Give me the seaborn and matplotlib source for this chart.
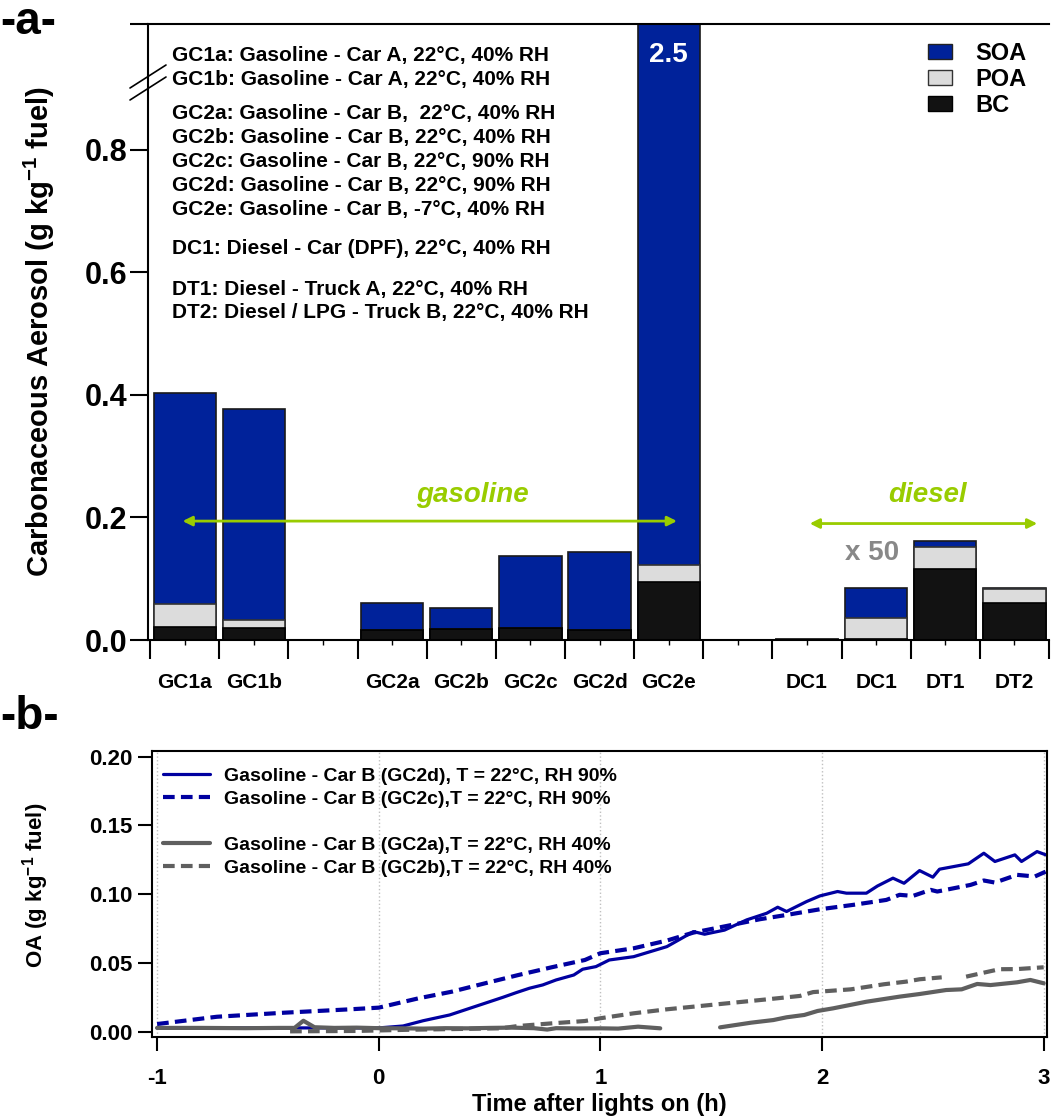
import numpy as np
import pandas as pd
import matplotlib
matplotlib.use("Agg")
import matplotlib.pyplot as plt
import seaborn as sns
from matplotlib.lines import Line2D
from matplotlib.patches import Patch

sns.set_style("ticks")
plt.rcParams['font.family'] = ['Liberation Sans', 'DejaVu Sans']
plt.rcParams['font.weight'] = 'bold'
plt.rcParams['axes.labelweight'] = 'bold'
plt.rcParams['text.color'] = 'black'
plt.rcParams['axes.labelcolor'] = 'black'
plt.rcParams['xtick.color'] = 'black'
plt.rcParams['ytick.color'] = 'black'
plt.rcParams['mathtext.fontset'] = 'custom'
plt.rcParams['mathtext.rm'] = 'Liberation Sans:bold'
plt.rcParams['mathtext.bf'] = 'Liberation Sans:bold'
plt.rcParams['mathtext.default'] = 'bf'

# ---- panel a: emission factors (g / kg fuel) ----
slot_labels = ['GC1a', 'GC1b', '', 'GC2a', 'GC2b', 'GC2c', 'GC2d', 'GC2e',
               '', 'DC1', 'DC1', 'DT1', 'DT2']
bar_slots = [0, 1, 3, 4, 5, 6, 7, 9, 10, 11, 12]
bc = [0.021, 0.020, 0.016, 0.018, 0.020, 0.016, 0.095, 0.0008, 0.002, 0.116, 0.060]
poa = [0.038, 0.012, 0.0, 0.0, 0.0, 0.0, 0.027, 0.0006, 0.034, 0.036, 0.024]
soa = [0.344, 0.345, 0.044, 0.034, 0.117, 0.127, 2.378, 0.0006, 0.049, 0.010, 0.001]

experiments = [
    'GC1a: Gasoline - Car A, 22°C, 40% RH',
    'GC1b: Gasoline - Car A, 22°C, 40% RH',
    'GC2a: Gasoline - Car B,  22°C, 40% RH',
    'GC2b: Gasoline - Car B, 22°C, 40% RH',
    'GC2c: Gasoline - Car B, 22°C, 90% RH',
    'GC2d: Gasoline - Car B, 22°C, 90% RH',
    'GC2e: Gasoline - Car B, -7°C, 40% RH',
    'DC1: Diesel - Car (DPF), 22°C, 40% RH',
    'DT1: Diesel - Truck A, 22°C, 40% RH',
    'DT2: Diesel / LPG - Truck B, 22°C, 40% RH',
]
experiment_rows = [56, 79, 114, 138, 162, 185, 209, 249, 289, 312]

# ---- panel b: OA time series (g / kg fuel) ----
t_gc2d = [-1.0, -0.5, 0.0, 0.11, 0.2, 0.32, 0.41, 0.5, 0.56, 0.62, 0.68, 0.74,
          0.8, 0.88, 0.92, 0.98, 1.04, 1.15, 1.3, 1.42, 1.47, 1.56, 1.66, 1.75,
          1.8, 1.84, 1.93, 1.99, 2.07, 2.11, 2.2, 2.25, 2.32, 2.37, 2.44, 2.5,
          2.53, 2.66, 2.73, 2.78, 2.87, 2.9, 2.97, 3.01]
oa_gc2d = [0.003, 0.003, 0.003, 0.0044, 0.0082, 0.0124, 0.0172, 0.022, 0.0252,
           0.0286, 0.0318, 0.0342, 0.0378, 0.0414, 0.0456, 0.0475, 0.0523,
           0.0547, 0.062, 0.0729, 0.071, 0.074, 0.0814, 0.0862, 0.0906, 0.0875,
           0.0947, 0.0988, 0.102, 0.1008, 0.1008, 0.106, 0.1117, 0.108, 0.1172,
           0.1124, 0.1182, 0.1221, 0.1298, 0.1238, 0.1286, 0.1238, 0.131, 0.1286]

t_gc2c = [-1.0, -0.73, -0.43, -0.13, 0.0, 0.18, 0.33, 0.48, 0.63, 0.78, 0.93,
          1.0, 1.15, 1.3, 1.42, 1.57, 1.72, 1.84, 1.99, 2.14, 2.29, 2.35, 2.41,
          2.49, 2.52, 2.67, 2.73, 2.78, 2.88, 2.96, 3.01]
oa_gc2c = [0.0058, 0.0111, 0.014, 0.0165, 0.0177, 0.0245, 0.0293, 0.0354,
           0.0414, 0.047, 0.0523, 0.0572, 0.0608, 0.0664, 0.0722, 0.077, 0.0819,
           0.085, 0.0891, 0.0923, 0.0959, 0.0996, 0.0988, 0.1032, 0.102, 0.1068,
           0.11, 0.1085, 0.1141, 0.1129, 0.1165]

t_gc2a = [-1.0, -0.8, -0.6, -0.45, -0.38, -0.34, -0.29, -0.2, -0.1, 0.0, 0.1,
          0.2, 0.3, 0.4, 0.5, 0.6, 0.7, 0.76, 0.8, 0.9, 1.0, 1.08, 1.17, 1.27,
          np.nan,
          1.54, 1.68, 1.78, 1.84, 1.92, 1.98, 2.05, 2.2, 2.35, 2.44, 2.56, 2.63,
          2.7, 2.76, 2.88, 2.94, 3.0]
oa_gc2a = [0.003, 0.003, 0.0028, 0.003, 0.003, 0.0082, 0.0035, 0.003, 0.0032,
           0.0028, 0.0027, 0.0025, 0.0028, 0.0027, 0.003, 0.0032, 0.0028,
           0.0018, 0.0028, 0.0026, 0.0027, 0.0025, 0.0039, 0.0027,
           np.nan,
           0.0034, 0.0068, 0.0087, 0.0107, 0.0124, 0.0153, 0.0172, 0.022,
           0.0257, 0.0276, 0.0305, 0.031, 0.0349, 0.0341, 0.0361, 0.0378, 0.0354]

t_gc2b = [-0.4, -0.1, 0.15, 0.55, 0.63, 0.78, 0.93, 1.0, 1.15, 1.3, 1.45, 1.6,
          1.75, 1.9, 1.96, 2.13, 2.28, 2.38, 2.44, 2.54,
          np.nan,
          2.65, 2.73, 2.8, 2.88, 3.0]
oa_gc2b = [0.0005, 0.0008, 0.0017, 0.0027, 0.0044, 0.0063, 0.008, 0.01, 0.0136,
           0.0165, 0.0189, 0.0213, 0.0237, 0.0262, 0.029, 0.031, 0.0347, 0.0366,
           0.0383, 0.0397,
           np.nan,
           0.0402, 0.0431, 0.0456, 0.0457, 0.047]

SOA_C, POA_C, BC_C = '#00229a', '#dcdcdc', '#121212'
GREEN = '#99cc00'
BLUE, GRAY = '#0000a0', '#5f5f5f'

W, H = 1054, 1118
fig = plt.figure(figsize=(W / 100, H / 100), dpi=100)


def px_box(left, top, right, bottom):
    return [left / W, 1 - bottom / H, (right - left) / W, (bottom - top) / H]


# =========================== panel a ===========================
ax = fig.add_axes(px_box(148, 24, 1049, 640))
bars = pd.DataFrame({'slot': bar_slots, 'bc': bc, 'poa': poa, 'soa': soa})
bars['poa_top'] = bars['bc'] + bars['poa']
bars['total'] = bars['poa_top'] + bars['soa']
for col, color, edge in [('total', SOA_C, '#1a1a1a'), ('poa_top', POA_C, '#333333'),
                         ('bc', BC_C, '#000000')]:
    sns.barplot(data=bars, x='slot', y=col, native_scale=True, width=0.9,
                color=color, saturation=1, edgecolor=edge, linewidth=1.2,
                errorbar=None, ax=ax)

ax.set_xlim(-0.53, 12.5)
ax.set_ylim(0, 1.005)
ax.set_yticks([0, 0.2, 0.4, 0.6, 0.8, 1.005])
ax.set_yticklabels(['0.0', '0.2', '0.4', '0.6', '0.8', ''], fontsize=22)
ax.set_xticks(np.arange(-0.5, 13, 1))
ax.set_xticklabels([])
ax.set_xticks(range(13), minor=True)
ax.set_xticklabels(slot_labels, minor=True, fontsize=15)
ax.tick_params(axis='x', which='major', length=14, width=1.5, direction='out')
ax.tick_params(axis='x', which='minor', length=3.5, width=1.0, pad=20)
ax.tick_params(axis='y', length=13, width=1.5, pad=2)
ax.set_xlabel('')
ax.set_ylabel('Carbonaceous Aerosol (g kg$^{-1}$ fuel)', fontsize=21, labelpad=20)
for side in ['left', 'top', 'bottom']:
    ax.spines[side].set_linewidth(1.5)
    ax.spines[side].set_color('black')
ax.spines['right'].set_visible(False)

ax.text(7, 0.955, '2.5', color='white', ha='center', va='center',
        fontsize=20, fontweight='bold')
ax.annotate('', xy=(7.16, 0.194), xytext=(-0.07, 0.194),
            arrowprops=dict(arrowstyle='<|-|>', color=GREEN, lw=2, mutation_scale=14))
ax.annotate('', xy=(12.37, 0.19), xytext=(9.0, 0.19),
            arrowprops=dict(arrowstyle='<|-|>', color=GREEN, lw=2, mutation_scale=14))
ax.text(4.155, 0.237, 'gasoline', color=GREEN, ha='center', va='center',
        fontsize=20, fontweight='bold', fontstyle='italic')
ax.text(10.75, 0.237, 'diesel', color=GREEN, ha='center', va='center',
        fontsize=20, fontweight='bold', fontstyle='italic')
ax.text(9.94, 0.142, 'x 50', color='#888888', ha='center', va='center',
        fontsize=20, fontweight='bold')

for label, row in zip(experiments, experiment_rows):
    fig.text(172 / W, 1 - row / H, label, ha='left', va='center',
             fontsize=15, fontweight='bold')

handles_a = [Patch(facecolor=SOA_C, edgecolor='#222222', label='SOA'),
             Patch(facecolor=POA_C, edgecolor='#333333', label='POA'),
             Patch(facecolor=BC_C, edgecolor='#000000', label='BC')]
ax.legend(handles=handles_a, loc='upper left', bbox_to_anchor=(928 / W, 1 - 42 / H),
          bbox_transform=fig.transFigure, frameon=False, borderpad=0,
          borderaxespad=0, handlelength=1.0, handleheight=0.62,
          handletextpad=1.0, labelspacing=0.12, prop={'size': 17, 'weight': 'bold'})

# axis break marks
for y0 in (88, 100):
    fig.add_artist(Line2D([130 / W, 166 / W], [1 - y0 / H, 1 - (y0 - 23) / H],
                          color='black', lw=1.2, transform=fig.transFigure))

# =========================== panel b ===========================
bx = fig.add_axes(px_box(152, 751, 1047, 1037))
series = [(t_gc2d, oa_gc2d, BLUE, '-', 2.3),
          (t_gc2c, oa_gc2c, BLUE, (0, (2.8, 1.5)), 3.0),
          (t_gc2a, oa_gc2a, GRAY, '-', 3.0),
          (t_gc2b, oa_gc2b, GRAY, (0, (2.8, 1.5)), 3.0)]
for t, oa, color, ls, lw in series:
    df = pd.DataFrame({'t': t, 'oa': oa})
    df['seg'] = df['t'].isna().cumsum()
    df = df.dropna()
    for _, seg in df.groupby('seg'):
        sns.lineplot(data=seg, x='t', y='oa', color=color, linestyle=ls,
                     linewidth=lw, estimator=None, sort=False, ax=bx)

bx.set_xlim(-1.023, 3.015)
bx.set_ylim(-0.0036, 0.204)
bx.set_xticks([-1, 0, 1, 2, 3])
bx.set_xticklabels(['-1', '0', '1', '2', '3'], fontsize=16)
bx.set_yticks([0, 0.05, 0.10, 0.15, 0.20])
bx.set_yticklabels(['0.00', '0.05', '0.10', '0.15', '0.20'], fontsize=16)
bx.xaxis.grid(True, linestyle=':', color='#c0c0c0', linewidth=1)
bx.tick_params(length=10, width=1.5)
bx.tick_params(axis='x', pad=12)
bx.tick_params(axis='y', pad=4)
bx.set_xlabel('Time after lights on (h)', fontsize=17, labelpad=3)
bx.set_ylabel('OA (g kg$^{-1}$ fuel)', fontsize=16)
bx.yaxis.set_label_coords(-0.113, 0.53)
for side in bx.spines:
    bx.spines[side].set_linewidth(1.5)
    bx.spines[side].set_color('black')

handles_b = [Line2D([], [], color=BLUE, lw=2.3, label='Gasoline - Car B (GC2d), T = 22°C, RH 90%'),
             Line2D([], [], color=BLUE, lw=3.0, ls=(0, (2.8, 1.5)),
                    label='Gasoline - Car B (GC2c),T = 22°C, RH 90%'),
             Line2D([], [], color='none', label=' '),
             Line2D([], [], color=GRAY, lw=3.0, label='Gasoline - Car B (GC2a),T = 22°C, RH 40%'),
             Line2D([], [], color=GRAY, lw=3.0, ls=(0, (2.8, 1.5)),
                    label='Gasoline - Car B (GC2b),T = 22°C, RH 40%')]
bx.legend(handles=handles_b, loc='upper left', bbox_to_anchor=(163 / W, 1 - 767 / H),
          bbox_transform=fig.transFigure, frameon=False, borderpad=0,
          borderaxespad=0, handlelength=2.4, handletextpad=0.75,
          labelspacing=0.28, prop={'size': 14, 'weight': 'bold'})

fig.text(0, 1 - 0 / H, '-a-', ha='left', va='top', fontsize=33, fontweight='bold')
fig.text(0, 1 - 695 / H, '-b-', ha='left', va='top', fontsize=33, fontweight='bold')

fig.savefig('out.png', dpi=100)
